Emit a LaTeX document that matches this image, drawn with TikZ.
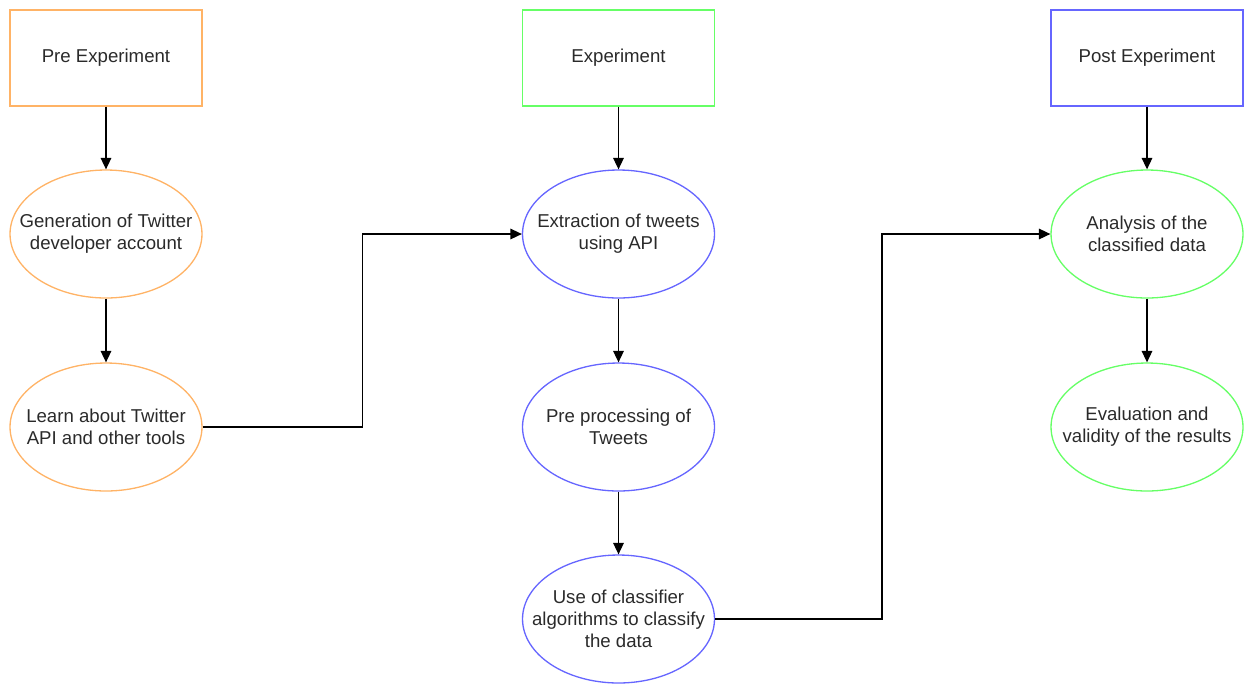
\documentclass[tikz,border=0pt]{standalone}
\usepackage{xcolor}
\usepackage{fontspec}
\setmainfont{Liberation Sans}
\usetikzlibrary{positioning, shapes, arrows, arrows.meta}
\definecolor{pastelorange}{HTML}{FFB366}
\definecolor{pastelgreen}{HTML}{66FF66}
\definecolor{pastelblue}{HTML}{6666FF}
\definecolor{textgrey}{HTML}{2A2A2A}

\begin{document}
\begin{tikzpicture}[x=0.02cm, y=-0.02cm, line width=0.75pt,
  every node/.style={font=\fontsize{10.6}{12.4}\selectfont, text=textgrey, align=center},
  phase/.style={rectangle, draw, minimum width=3.84cm, minimum height=1.92cm, inner sep=0pt},
  task/.style={ellipse, draw, minimum width=3.84cm, minimum height=2.56cm, inner xsep=-14pt, inner ysep=0pt},
  flow/.style={-{Triangle[length=6.5pt, width=6pt]}, black}]
\useasboundingbox (0,0) rectangle (1246,684);
%% phase headers
\node [phase, draw=pastelorange] (pre) at (106,58) {Pre Experiment};
\node [phase, draw=pastelgreen] (exp) at (618.5,58) {Experiment};
\node [phase, draw=pastelblue] (post) at (1147,58) {Post Experiment};

%% pre experiment
\node [task, draw=pastelorange] (gen) at (106,234) {Generation of Twitter\\developer account};
\node [task, draw=pastelorange] (learn) at (106,427) {Learn about Twitter\\API and other tools};

%% experiment
\node [task, draw=pastelblue] (extract) at (618.5,234) {Extraction of tweets\\using API};
\node [task, draw=pastelblue] (prep) at (618.5,427) {Pre processing of\\Tweets};
\node [task, draw=pastelblue] (classify) at (618.5,619) {Use of classifier\\algorithms to classify\\the data};

%% post experiment
\node [task, draw=pastelgreen] (analysis) at (1147,234) {Analysis of the\\classified data};
\node [task, draw=pastelgreen] (eval) at (1147,427) {Evaluation and\\validity of the results};

\draw [flow] (pre) -- (gen);
\draw [flow] (gen) -- (learn);
\draw [flow] (exp) -- (extract);
\draw [flow] (extract) -- (prep);
\draw [flow] (prep) -- (classify);
\draw [flow] (post) -- (analysis);
\draw [flow] (analysis) -- (eval);
\draw [flow] (learn.east) -- ++(160,0) |- (extract.west);
\draw [flow] (classify.east) -- ++(167,0) |- (analysis.west);
\end{tikzpicture}
\end{document}
